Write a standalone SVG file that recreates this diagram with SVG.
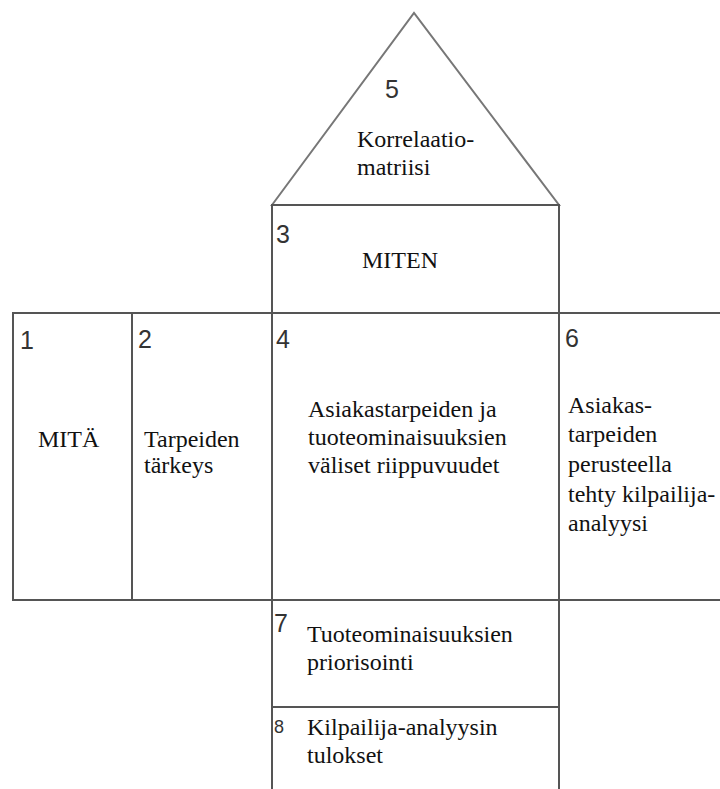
<svg xmlns="http://www.w3.org/2000/svg" width="720" height="789" viewBox="0 0 720 789">
<style>
.box{fill:none;stroke:#555;stroke-width:2}
.roof{fill:none;stroke:#777;stroke-width:2}
.t{font-family:"Liberation Serif","Times New Roman",serif;font-size:24px;fill:#111}
.n{font-family:"Liberation Sans",Arial,sans-serif;font-size:25px;fill:#333}
.n8{font-family:"Liberation Sans",Arial,sans-serif;font-size:18px;fill:#333}
</style>
<rect width="720" height="789" fill="#fff"/>
<g id="node5">
<polygon class="roof" points="272,205 414,13 559,205"/>
<text class="n" x="385" y="98">5</text>
<text class="t" x="357" y="147">Korrelaatio-</text>
<text class="t" x="357" y="175">matriisi</text>
</g>
<g id="node3">
<rect class="box" x="272" y="205" width="287" height="108"/>
<text class="n" x="276" y="243">3</text>
<text class="t" x="362" y="268">MITEN</text>
</g>
<g id="node1">
<rect class="box" x="13" y="313" width="119" height="287"/>
<text class="n" x="20" y="349">1</text>
<text class="t" x="38" y="447">MITÄ</text>
</g>
<g id="node2">
<rect class="box" x="132" y="313" width="140" height="287"/>
<text class="n" x="138" y="348">2</text>
<text class="t" x="144" y="447">Tarpeiden</text>
<text class="t" x="144" y="473">tärkeys</text>
</g>
<g id="node4">
<rect class="box" x="272" y="313" width="287" height="287"/>
<text class="n" x="276" y="348">4</text>
<text class="t" x="308" y="417">Asiakastarpeiden ja</text>
<text class="t" x="308" y="445">tuoteominaisuuksien</text>
<text class="t" x="308" y="473">väliset riippuvuudet</text>
</g>
<g id="node6">
<rect class="box" x="559" y="313" width="165" height="287"/>
<text class="n" x="565" y="347">6</text>
<text class="t" x="568" y="413">Asiakas-</text>
<text class="t" x="568" y="442">tarpeiden</text>
<text class="t" x="568" y="472">perusteella</text>
<text class="t" x="568" y="502">tehty kilpailija-</text>
<text class="t" x="568" y="531">analyysi</text>
</g>
<g id="node7">
<rect class="box" x="272" y="600" width="287" height="107"/>
<text class="n" x="274" y="632">7</text>
<text class="t" x="307" y="642">Tuoteominaisuuksien</text>
<text class="t" x="307" y="670">priorisointi</text>
</g>
<g id="node8">
<rect class="box" x="272" y="707" width="287" height="90"/>
<text class="n8" x="274" y="733">8</text>
<text class="t" x="307" y="735">Kilpailija-analyysin</text>
<text class="t" x="307" y="763">tulokset</text>
</g>
<g id="connectors"/>
</svg>
